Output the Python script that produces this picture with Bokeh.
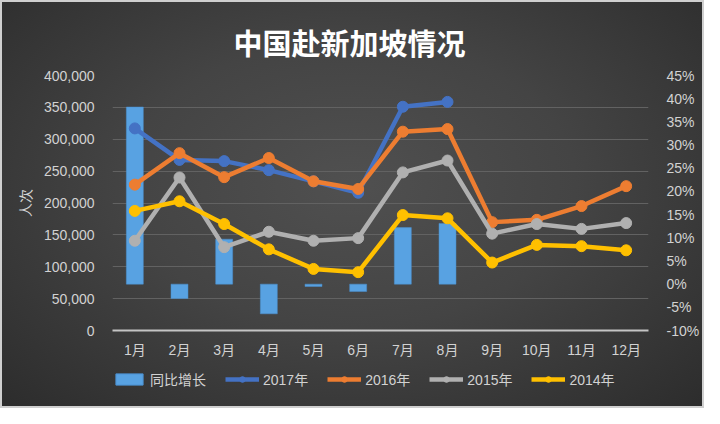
from bokeh.plotting import figure
from bokeh.layouts import column
from bokeh.models import (Range1d, FactorRange, LinearAxis, NumeralTickFormatter,
                          SingleIntervalTicker, Legend, LegendItem, ColumnDataSource)
from bokeh.embed import file_html
from bokeh.resources import INLINE

months = ["1月", "2月", "3月", "4月", "5月", "6月", "7月", "8月", "9月", "10月", "11月", "12月"]
yoy = [0.382, -0.031, 0.097, -0.064, -0.005, -0.016, 0.122, 0.131]
y2017 = [317000, 267600, 265700, 251500, 234000, 216000, 351000, 358600]
y2016 = [228800, 278200, 240500, 270600, 234000, 222000, 311900, 316000, 170000, 173600, 195200, 226400]
y2015 = [140800, 240000, 130700, 154900, 140800, 144900, 248000, 266600, 151900, 167000, 159400, 168500]
y2014 = [187600, 202700, 167000, 127300, 96600, 91500, 181100, 176000, 106600, 134300, 132300, 125800]
series_names = ["同比增长", "2017年", "2016年", "2015年", "2014年"]
title_text = "中国赴新加坡情况"
y_label = "人次"

FONT = "'Liberation Sans', 'Noto Sans CJK SC', sans-serif"
CJK = "'Noto Sans CJK SC', sans-serif"
LBL = "#d2d2d2"
BAR_COLOR = "#58a2e2"
colors = ["#4472c4", "#ed7d31", "#b0b0b0", "#ffc000"]

p = figure(width=704, height=360, x_range=FactorRange(*months, range_padding=0),
           y_range=Range1d(0, 400000), output_backend="svg", toolbar_location=None,
           min_border_left=112, min_border_right=56, min_border_top=75, min_border_bottom=30)
p.extra_y_ranges = {"pct": Range1d(-0.10, 0.45)}

p.background_fill_alpha = 0
p.border_fill_alpha = 0
p.outline_line_color = None

p.title.text = title_text
p.title.align = "left"
p.title.offset = 121
p.title.standoff = 26
p.title.text_font = CJK
p.title.text_font_size = "29px"
p.title.text_font_style = "bold"
p.title.text_color = "#ffffff"

p.ygrid.grid_line_color = "#626262"
p.ygrid.grid_line_width = 1
p.xgrid.grid_line_color = None
p.yaxis.ticker = SingleIntervalTicker(interval=50000)

# left axis
ya = p.yaxis[0]
ya.formatter = NumeralTickFormatter(format="0,0")
ya.axis_line_color = None
ya.major_tick_line_color = None
ya.minor_tick_line_color = None
ya.major_label_standoff = 12
ya.major_label_text_color = LBL
ya.major_label_text_font = FONT
ya.major_label_text_font_size = "14px"
ya.axis_label = y_label
ya.axis_label_text_font = CJK
ya.axis_label_text_font_size = "14px"
ya.axis_label_text_font_style = "normal"
ya.axis_label_text_color = LBL
ya.axis_label_standoff = 6

# right axis
ra = LinearAxis(y_range_name="pct", ticker=SingleIntervalTicker(interval=0.05),
                formatter=NumeralTickFormatter(format="0%"))
ra.axis_line_color = None
ra.major_tick_line_color = None
ra.minor_tick_line_color = None
ra.major_label_standoff = 12
ra.major_label_text_color = LBL
ra.major_label_text_font = FONT
ra.major_label_text_font_size = "14px"
p.add_layout(ra, "right")

# x axis
xa = p.xaxis[0]
xa.axis_line_color = "#c4c4c4"
xa.axis_line_width = 2
xa.major_tick_line_color = None
xa.minor_tick_line_color = None
xa.major_label_standoff = 5
xa.major_label_text_color = LBL
xa.major_label_text_font = FONT
xa.major_label_text_font_size = "14px"

p.vbar(x=months[:len(yoy)], top=yoy, bottom=0, width=0.38, y_range_name="pct",
       fill_color=BAR_COLOR, line_color="#4a90d0", line_width=0.5)

data = [y2017, y2016, y2015, y2014]
for col, ys in zip(colors, data):
    src = ColumnDataSource(dict(x=months[:len(ys)], y=ys))
    p.line("x", "y", source=src, line_color=col, line_width=4.5, line_join="round")
    p.scatter("x", "y", source=src, size=11, fill_color=col, line_color=col)

# legend strip (separate figure so the legend is not clipped by the plot frame)
lf = figure(width=704, height=48, x_range=Range1d(0, 1), y_range=Range1d(0, 1),
            output_backend="svg", toolbar_location=None,
            min_border=0, min_border_left=0, min_border_right=0,
            min_border_top=0, min_border_bottom=0)
lf.axis.visible = False
lf.grid.visible = False
lf.background_fill_alpha = 0
lf.border_fill_alpha = 0
lf.outline_line_color = None

# proxy renderers for the legend keys only (NaN point: nothing is drawn in the strip)
nan = float("nan")
proxy = dict(x=[nan], y=[nan])
rb = lf.vbar(x="x", top="y", bottom="y", source=ColumnDataSource(proxy), width=0.1,
             fill_color=BAR_COLOR, line_color="#4a90d0")
items = [LegendItem(label=series_names[0], renderers=[rb])]
for name, col in zip(series_names[1:], colors):
    e = ColumnDataSource(proxy)
    ln = lf.line("x", "y", source=e, line_color=col, line_width=4.5)
    sc = lf.scatter("x", "y", source=e, size=9, fill_color=col, line_color=col)
    items.append(LegendItem(label=name, renderers=[ln, sc]))

legend = Legend(items=items, orientation="horizontal", location=(0, 19),
                background_fill_alpha=0, border_line_color=None, padding=0, margin=0,
                glyph_width=34, glyph_height=14, label_standoff=4, spacing=19,
                label_text_font=FONT, label_text_font_size="14px", label_text_color=LBL)
lf.add_layout(legend, "center")

layout = column(p, lf, spacing=0)
layout.styles = {"background": "radial-gradient(ellipse at 50% 45%, #505050 0%, #444444 45%, #2c2c2c 100%)",
                 "box-shadow": "inset 0 0 0 2px #cfcfcf"}

open("out.html", "w").write(file_html(layout, INLINE))
